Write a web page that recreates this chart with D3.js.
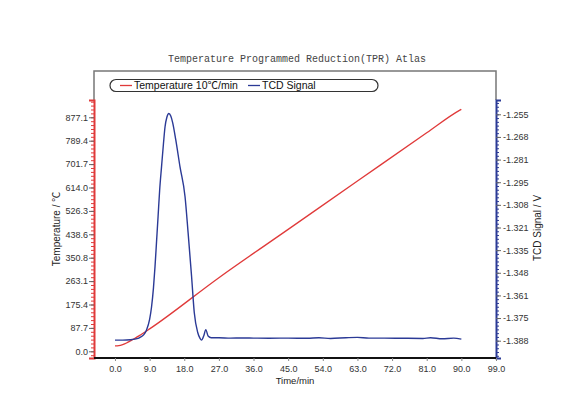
<!DOCTYPE html>
<html>
<head>
<meta charset="utf-8">
<script src="https://cdn.jsdelivr.net/npm/d3@7"></script>
<style>
  body { margin: 0; background: #fff; }
  .tick text { font-family: "Liberation Sans", Arial, "Noto Sans CJK SC", sans-serif; font-size: 9px; fill: #333; }
  .label { font-family: "Liberation Sans", Arial, "Noto Sans CJK SC", sans-serif; font-size: 10px; fill: #222; }
</style>
</head>
<body>
<div id="chart"></div>
<script>
// TCD signal (V) against time (min)
const tcdTime = [0, 2, 4, 6, 6.5, 7.5, 8.2, 9, 9.5, 10, 10.4, 10.8, 11.2, 11.6, 12.1, 12.6, 13, 13.5, 14, 14.5, 15, 15.8, 16.9,
  18.2, 19, 19.9, 20.6, 21.5, 22.1, 22.5, 23.1, 23.6, 24.2, 25, 27, 30, 33, 36, 40, 45, 50, 53, 56, 60, 63, 66, 70, 75, 80,
  82, 85, 88, 90];
const tcdValue = [-1.3880, -1.3880, -1.3878, -1.3870, -1.3864, -1.3848, -1.3820, -1.3758, -1.3685, -1.3572, -1.3448, -1.3300,
  -1.3152, -1.3000, -1.2858, -1.2722, -1.2625, -1.2566, -1.2545, -1.2560, -1.2600, -1.2701, -1.2860, -1.3034, -1.3247,
  -1.3504, -1.3717, -1.3835, -1.3870, -1.3880, -1.3852, -1.3818, -1.3856, -1.3866, -1.3866, -1.3868, -1.3867, -1.3868,
  -1.3869, -1.3868, -1.3869, -1.3866, -1.3870, -1.3866, -1.3864, -1.3868, -1.3868, -1.3869, -1.3870, -1.3866, -1.3872,
  -1.3868, -1.3874];

// Temperature (°C) against time (min)
const tempTime = [0, 1, 2, 3, 4, 5, 6, 7, 9, 27, 45, 63, 81, 89.5, 90];
const tempValue = [20, 21, 25, 31, 39, 47, 56, 65, 84, 276, 457, 638, 819, 903, 907];

// axis ticks
const timeTicks = [0, 9, 18, 27, 36, 45, 54, 63, 72, 81, 90, 99];
const tempTicks = [0, 87.71, 175.42, 263.13, 350.84, 438.55, 526.26, 613.97, 701.68, 789.39, 877.1];
const tcdTicks = [-1.38833, -1.375, -1.36167, -1.34833, -1.335, -1.32167, -1.30833, -1.295, -1.28167, -1.26833, -1.255];
const tcdTickLabels = ['-1.388', '-1.375', '-1.361', '-1.348', '-1.335', '-1.321', '-1.308', '-1.295', '-1.281', '-1.268', '-1.255'];

const legendItems = ['Temperature 10\u2103/min', 'TCD Signal'];

class TprChart {
  constructor(_config) {
    this.config = {
      parentElement: _config.parentElement,
      containerWidth: 581,
      containerHeight: 394,
      margin: {
        top: 100, right: 85, bottom: 36, left: 94,
      },
      frameTop: 71,
      red: '#e03a3a',
      blue: '#2b3a96',
    };
    this.initVis();
  }

  initVis() {
    const vis = this;
    const c = vis.config;

    vis.width = c.containerWidth - c.margin.left - c.margin.right;
    vis.height = c.containerHeight - c.margin.top - c.margin.bottom;

    vis.svg = d3.select(c.parentElement).append('svg')
      .attr('width', c.containerWidth)
      .attr('height', c.containerHeight);

    vis.chart = vis.svg.append('g')
      .attr('transform', `translate(${c.margin.left},${c.margin.top})`);

    vis.xScale = d3.scaleLinear().domain([-5.45, 99]).range([0, vis.width]);
    vis.yTemp = d3.scaleLinear().domain([-25.1, 941.9]).range([vis.height, 0]);
    vis.yTcd = d3.scaleLinear().domain([-1.39852, -1.24658]).range([vis.height, 0]);

    vis.renderVis();
  }

  renderVis() {
    const vis = this;
    const c = vis.config;
    const frameDy = c.frameTop - c.margin.top;

    // gray frame above axes
    vis.chart.append('path')
      .attr('d', `M0,0 V${frameDy} H${vis.width} V0`)
      .attr('fill', 'none')
      .attr('stroke', '#777')
      .attr('stroke-width', 1.5);

    // title
    vis.svg.append('text')
      .attr('x', 297)
      .attr('y', 62)
      .attr('text-anchor', 'middle')
      .style('font-family', '"Liberation Mono", "Courier New", monospace')
      .style('font-size', '10px')
      .style('fill', '#444')
      .text('Temperature Programmed Reduction(TPR) Atlas');

    // minor ticks
    const tempStep = 87.71 / 6;
    const tempMinor = d3.range(Math.ceil(-25 / tempStep), Math.floor(941 / tempStep) + 1).map((k) => k * tempStep);
    const tcdStep = (1.38833 - 1.255) / 60;
    const tcdMinor = d3.range(-8, 64).map((k) => -1.38833 + k * tcdStep)
      .filter((d) => d > -1.3985 && d < -1.2466);

    vis.chart.append('g')
      .call(d3.axisLeft(vis.yTemp).tickValues(tempMinor).tickSize(3).tickFormat(''))
      .call((g) => g.selectAll('line').attr('stroke', c.red))
      .call((g) => g.select('.domain').remove());

    vis.chart.append('g')
      .attr('transform', `translate(${vis.width},0)`)
      .call(d3.axisRight(vis.yTcd).tickValues(tcdMinor).tickSize(3).tickFormat(''))
      .call((g) => g.selectAll('line').attr('stroke', c.blue))
      .call((g) => g.select('.domain').remove());

    // left axis
    vis.chart.append('g')
      .call(d3.axisLeft(vis.yTemp).tickValues(tempTicks).tickSize(5).tickPadding(1).tickFormat(d3.format('.1f')))
      .call((g) => g.selectAll('line').attr('stroke', '#666'))
      .call((g) => g.select('.domain').attr('stroke', c.red).attr('stroke-width', 2));

    // right axis
    vis.chart.append('g')
      .attr('transform', `translate(${vis.width},0)`)
      .call(d3.axisRight(vis.yTcd).tickValues(tcdTicks).tickSize(5).tickPadding(2)
        .tickFormat((d, i) => tcdTickLabels[i]))
      .call((g) => g.selectAll('line').attr('stroke', '#666'))
      .call((g) => g.select('.domain').attr('stroke', c.blue).attr('stroke-width', 2));

    // bottom axis
    vis.chart.append('g')
      .attr('transform', `translate(0,${vis.height})`)
      .call(d3.axisBottom(vis.xScale).tickValues(timeTicks).tickSize(3).tickPadding(5).tickFormat(d3.format('.1f')))
      .call((g) => g.selectAll('line').attr('stroke', '#888'))
      .call((g) => g.select('.domain').attr('d', `M0,0H${vis.width}`).attr('stroke', '#111').attr('stroke-width', 2));

    // series
    const tempData = tempTime.map((t, i) => [t, tempValue[i]]);
    const tcdData = tcdTime.map((t, i) => [t, tcdValue[i]]);

    vis.chart.append('path')
      .datum(tempData)
      .attr('fill', 'none')
      .attr('stroke', c.red)
      .attr('stroke-width', 1.3)
      .attr('d', d3.line().curve(d3.curveMonotoneX)
        .x((d) => vis.xScale(d[0])).y((d) => vis.yTemp(d[1])));

    vis.chart.append('path')
      .datum(tcdData)
      .attr('fill', 'none')
      .attr('stroke', c.blue)
      .attr('stroke-width', 1.4)
      .attr('d', d3.line().curve(d3.curveMonotoneX)
        .x((d) => vis.xScale(d[0])).y((d) => vis.yTcd(d[1])));

    // axis titles
    vis.svg.append('text')
      .attr('class', 'label')
      .attr('transform', 'translate(60,229) rotate(-90)')
      .attr('text-anchor', 'middle')
      .text('Temperature / \u2103');

    vis.svg.append('text')
      .attr('class', 'label')
      .attr('transform', 'translate(541,228) rotate(-90)')
      .attr('text-anchor', 'middle')
      .text('TCD Signal / V');

    vis.svg.append('text')
      .attr('class', 'label')
      .attr('x', 295)
      .attr('y', 384)
      .attr('text-anchor', 'middle')
      .style('font-size', '9.5px')
      .text('Time/min');

    // legend
    const legend = vis.svg.append('g').attr('transform', 'translate(110,79.5)');
    legend.append('rect')
      .attr('width', 268)
      .attr('height', 12)
      .attr('rx', 6)
      .attr('fill', '#fff')
      .attr('stroke', '#333')
      .attr('stroke-width', 1.2);

    const itemX = [10, 138];
    const colors = [c.red, c.blue];
    legendItems.forEach((name, i) => {
      legend.append('line')
        .attr('x1', itemX[i]).attr('x2', itemX[i] + 12)
        .attr('y1', 6).attr('y2', 6)
        .attr('stroke', colors[i])
        .attr('stroke-width', 1.3);
      legend.append('text')
        .attr('class', 'label')
        .attr('x', itemX[i] + 14)
        .attr('y', 9.8)
        .style('font-size', '10.5px')
        .style('fill', '#111')
        .text(name);
    });
  }
}

const chart = new TprChart({ parentElement: '#chart' });
</script>
</body>
</html>
